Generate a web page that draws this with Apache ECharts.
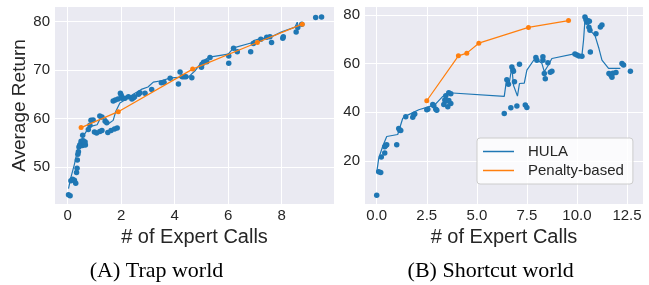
<!DOCTYPE html>
<html>
<head>
<meta charset="utf-8">
<script src="https://cdn.jsdelivr.net/npm/echarts@6/dist/echarts.min.js"></script>
<style>
  html, body { margin: 0; padding: 0; background: #fff; }
  #chart { width: 649px; height: 285px; }
</style>
</head>
<body>
<div id="chart"></div>
<script>
// Trap world (A)
var trapHulaPts = [
  [0.03,44.2],[0.09,44.0],[0.12,47.1],[0.18,47.4],[0.25,47.2],[0.3,46.6],
  [0.33,48.8],[0.35,49.7],[0.36,51.4],[0.38,52.6],[0.4,53.1],[0.42,54.1],
  [0.45,54.5],[0.5,54.8],[0.55,54.4],[0.6,54.6],[0.66,54.5],[0.5,55.3],
  [0.58,55.4],[0.65,55.1],[0.56,56.5],[0.77,57.7],[0.83,58.6],[0.87,59.6],
  [0.95,59.7],[1.0,57.2],[1.08,57.0],[1.2,57.3],[1.28,57.5],[1.2,60.5],
  [1.28,60.3],[1.4,59.4],[1.46,59.1],[1.5,57.1],[1.62,57.5],[1.75,57.8],
  [1.85,58.0],[1.7,63.6],[1.78,63.8],[1.88,64.0],[1.97,65.2],[2.0,64.8],
  [2.03,64.2],[2.14,64.2],[2.27,64.5],[2.4,64.0],[2.46,64.3],[2.5,64.5],
  [2.65,65.0],[2.7,65.3],[2.89,65.2],[3.14,66.0],[3.5,67.4],[3.6,67.5],
  [3.83,68.3],[4.14,67.1],[4.2,69.6],[4.28,68.6],[4.35,68.6],[4.42,68.6],
  [4.64,68.4],[5.0,70.6],[5.02,71.2],[5.08,71.6],[5.2,71.7],[5.32,72.6],
  [6.02,71.4],[6.02,72.9],[6.2,74.5],[6.34,73.8],[6.84,73.8],[6.94,75.5],
  [7.22,76.4],[7.44,76.8],[7.56,76.9],[7.62,75.7],[8.04,76.6],[8.06,76.9],
  [8.54,77.9],[8.6,78.8],[8.75,79.5],[9.27,80.9],[9.49,81.0]
];
var trapHulaLine = [
  [0.03,45.5],[0.12,47.8],[0.25,50.5],[0.35,53.0],[0.45,54.8],[0.6,56.5],
  [0.75,57.8],[0.9,58.4],[1.1,58.7],[1.2,59.8],[1.4,60.2],[1.55,59.0],
  [1.7,59.6],[1.8,61.5],[1.95,63.2],[2.2,64.0],[2.45,65.0],[2.75,66.0],
  [3.0,66.5],[3.2,67.5],[3.5,67.8],[3.85,68.4],[4.2,68.5],[4.5,68.5],
  [4.75,69.8],[5.0,71.6],[5.15,71.3],[5.05,71.9],[5.3,72.7],[6.0,73.3],
  [6.2,74.6],[6.85,75.6],[6.95,76.1],[7.2,76.5],[7.5,76.6],[8.0,77.9],
  [8.5,78.9],[8.58,79.9],[8.62,79.0]
];
var trapPenalty = [[0.5,58.1],[1.89,61.4],[4.67,70.2],[7.09,75.7],[8.77,79.5]];

// Shortcut world (B)
var shortHulaPts = [
  [0.0,5.8],[0.1,15.5],[0.2,15.2],[0.23,21.6],[0.4,23.2],[0.4,25.8],
  [0.45,26.3],[0.5,26.6],[1.0,26.6],[1.1,33.3],[1.15,32.6],[1.2,32.5],
  [1.45,38.1],[1.8,37.9],[1.85,38.9],[1.9,39.3],[2.5,41.0],[2.55,41.2],
  [2.8,43.2],[2.85,42.6],[2.95,41.2],[3.0,40.8],[3.35,43.2],[3.4,45.0],
  [3.45,46.8],[3.5,44.6],[3.55,42.2],[3.6,44.8],[3.7,43.6],[3.6,48.0],
  [3.7,47.6],[6.37,39.5],[6.7,41.8],[7.0,42.5],[7.42,43.0],[7.5,41.9],
  [6.5,53.4],[6.58,51.5],[6.75,58.6],[6.8,57.4],[6.83,56.8],[6.88,52.5],
  [7.13,59.7],[7.95,62.5],[8.0,61.4],[8.3,62.8],[8.3,61.4],[8.37,55.9],
  [8.42,53.8],[8.55,60.3],[8.67,56.4],[8.75,56.8],[9.9,63.9],[10.0,63.5],
  [10.1,63.1],[10.25,63.0],[10.4,79.2],[10.45,78.0],[10.5,77.0],[10.55,77.6],
  [10.62,77.4],[10.6,75.0],[10.65,73.7],[10.67,64.8],[10.95,72.3],[11.17,75.1],
  [11.25,75.9],[11.6,55.9],[11.7,55.2],[11.8,56.0],[11.95,56.3],[11.75,54.4],
  [12.25,60.0],[12.33,59.4],[12.67,56.9]
];
var shortHulaLine = [
  [0.0,15.1],[0.1,21.0],[0.3,26.0],[0.5,30.0],[1.05,30.8],[1.3,37.5],
  [1.6,39.0],[2.1,41.0],[2.5,42.0],[2.9,43.0],[3.3,46.5],[3.6,48.0],
  [6.37,46.5],[6.47,52.5],[6.6,51.0],[6.75,58.6],[6.83,51.1],[7.03,46.6],
  [7.13,51.8],[7.37,52.0],[7.5,57.3],[7.9,62.1],[8.25,60.1],[8.37,56.7],
  [8.53,58.8],[8.75,62.1],[9.92,64.1],[10.25,63.4],[10.33,69.6],[10.4,77.8],
  [10.5,79.2],[10.65,73.7],[10.9,71.6],[11.1,66.2],[11.25,61.4],[11.58,58.0],
  [12.17,58.0]
];
var shortPenalty = [[2.5,44.7],[4.08,63.2],[4.5,64.3],[5.1,68.4],[7.58,74.9],[9.58,77.7]];

var trapXTicks = [0, 2, 4, 6, 8];
var trapYTicks = [50, 60, 70, 80];
var shortXTicks = [0, 2.5, 5, 7.5, 10, 12.5];
var shortYTicks = [20, 40, 60, 80];

var blue = '#1f77b4';
var orange = '#ff7f0e';
var textColor = '#262626';
var sans = 'Liberation Sans';
var serif = 'Liberation Serif';

function xAxisOf(gridIndex, min, max, ticks, fmt) {
  return {
    type: 'value', gridIndex: gridIndex, min: min, max: max,
    name: '# of Expert Calls', nameLocation: 'middle', nameGap: 22,
    nameTextStyle: { fontSize: 20, color: textColor, fontFamily: sans },
    axisLine: { show: false },
    axisTick: { show: false, customValues: ticks },
    axisLabel: { customValues: ticks, margin: 4, fontSize: 15, color: textColor, fontFamily: sans, formatter: fmt },
    splitLine: { show: true, lineStyle: { color: '#ffffff', width: 1 } }
  };
}
function yAxisOf(gridIndex, min, max, ticks, name) {
  return {
    type: 'value', gridIndex: gridIndex, min: min, max: max,
    name: name, nameLocation: 'middle', nameGap: 26,
    nameTextStyle: { fontSize: 19, color: textColor, fontFamily: sans },
    axisLine: { show: false },
    axisTick: { show: false, customValues: ticks },
    axisLabel: { customValues: ticks, margin: 5, fontSize: 15, color: textColor, fontFamily: sans },
    splitLine: { show: true, lineStyle: { color: '#ffffff', width: 1 } }
  };
}
function dots(name, xi, data) {
  return { name: name, type: 'scatter', xAxisIndex: xi, yAxisIndex: xi, data: data, symbolSize: 5.5,
    itemStyle: { color: blue, opacity: 1 }, z: 3 };
}
function curve(name, xi, data, color, withSymbol, z) {
  return { name: name, type: 'line', xAxisIndex: xi, yAxisIndex: xi, data: data,
    showSymbol: withSymbol, symbol: 'circle', symbolSize: 5,
    lineStyle: { color: color, width: 1.2 }, itemStyle: { color: color, opacity: 1 }, z: z };
}

var myChart = echarts.init(document.getElementById('chart'), null, { renderer: 'canvas' });
var option = {
  animation: false,
  grid: [
    { left: 55, top: 7, width: 279, height: 197, show: true, backgroundColor: '#eaeaf2', borderWidth: 0 },
    { left: 365, top: 7, width: 278, height: 197, show: true, backgroundColor: '#eaeaf2', borderWidth: 0 }
  ],
  xAxis: [
    xAxisOf(0, -0.475, 9.955, trapXTicks, function (v) { return String(v); }),
    xAxisOf(1, -0.585, 13.3, shortXTicks, function (v) { return v.toFixed(1); })
  ],
  yAxis: [
    yAxisOf(0, 42.3, 83.05, trapYTicks, 'Average Return'),
    yAxisOf(1, 2.2, 83.3, shortYTicks, '')
  ],
  legend: {
    data: ['HULA', 'Penalty-based'],
    orient: 'vertical', left: 477, top: 138,
    padding: [6, 9, 6, 6], itemGap: 4,
    itemWidth: 31, itemHeight: 1.5, icon: 'rect',
    backgroundColor: 'rgba(255,255,255,0.8)', borderColor: '#cccccc', borderWidth: 1, borderRadius: 3,
    textStyle: { fontSize: 15, color: textColor, fontFamily: sans, padding: [0, 0, 0, 9] }
  },
  series: [
    dots('HULA', 0, trapHulaPts),
    curve('HULA', 0, trapHulaLine, blue, false, 2),
    curve('Penalty-based', 0, trapPenalty, orange, true, 4),
    dots('HULA', 1, shortHulaPts),
    curve('HULA', 1, shortHulaLine, blue, false, 2),
    curve('Penalty-based', 1, shortPenalty, orange, true, 4)
  ],
  graphic: [
    { type: 'text', style: { text: '(A) Trap world', x: 156.5, y: 271, align: 'center', verticalAlign: 'middle', fontSize: 22, fontFamily: serif, fill: '#000' } },
    { type: 'text', style: { text: '(B) Shortcut world', x: 490.7, y: 271, align: 'center', verticalAlign: 'middle', fontSize: 22, fontFamily: serif, fill: '#000' } }
  ]
};
myChart.setOption(option);
</script>
</body>
</html>
